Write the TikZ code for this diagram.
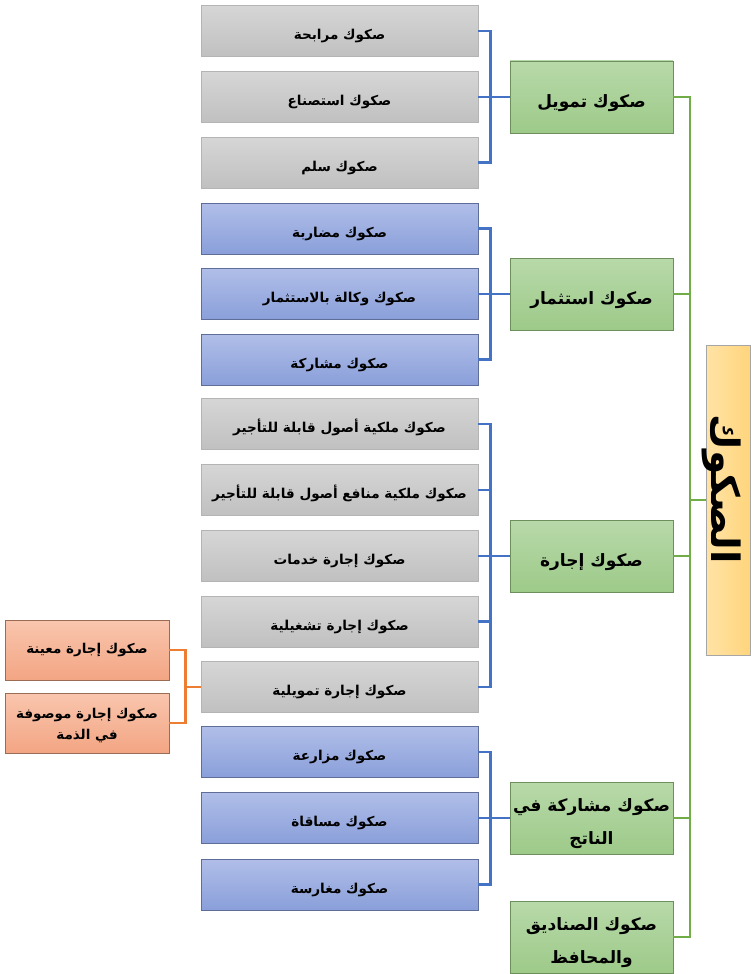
\documentclass[tikz,border=0pt]{standalone}
\usepackage{fontspec}
\newfontfamily\arabicfont[Script=Arabic]{DejaVu Sans}
\TeXXeTstate=1
\newcommand{\ar}[1]{\beginR #1\endR}
\definecolor{grayTop}{HTML}{D6D6D6}
\definecolor{grayBot}{HTML}{C0C0C0}
\definecolor{grayEdge}{HTML}{B4B4B4}
\definecolor{blueTop}{HTML}{B0BEE8}
\definecolor{blueBot}{HTML}{8A9FDA}
\definecolor{blueEdge}{HTML}{5F6E99}
\definecolor{greenTop}{HTML}{B8D9A9}
\definecolor{greenBot}{HTML}{9DCA89}
\definecolor{greenEdge}{HTML}{6D8F5C}
\definecolor{orangeTop}{HTML}{F9C6AE}
\definecolor{orangeBot}{HTML}{F3A583}
\definecolor{orangeEdge}{HTML}{9A6B55}
\definecolor{rootTop}{HTML}{FFE3A6}
\definecolor{rootBot}{HTML}{FFD57C}
\definecolor{rootEdge}{HTML}{A6A6A6}
\definecolor{blueLine}{HTML}{4472C4}
\definecolor{greenLine}{HTML}{70AD47}
\definecolor{orangeLine}{HTML}{ED7D31}
\begin{document}
\begin{tikzpicture}[x=1pt,y=-1pt,
  leafbox/.style={draw, line width=0.8pt, minimum width=277pt, minimum height=51pt,
    inner sep=2pt, align=center, text height=19pt, text depth=2pt,
    font=\arabicfont\bfseries\fontsize{13.6}{16}\selectfont},
  grayleaf/.style={leafbox, draw=grayEdge, top color=grayTop, bottom color=grayBot},
  blueleaf/.style={leafbox, draw=blueEdge, top color=blueTop, bottom color=blueBot},
  groupbox/.style={draw=greenEdge, line width=0.8pt, top color=greenTop, bottom color=greenBot,
    minimum width=163pt, minimum height=72pt, inner sep=2pt, align=center,
    font=\arabicfont\bfseries\fontsize{17}{33}\selectfont},
  onegroup/.style={groupbox, text height=24pt, text depth=3pt},
  twogroup/.style={groupbox, text height=55pt, text depth=2pt},
  subbox/.style={draw=orangeEdge, line width=0.8pt, top color=orangeTop, bottom color=orangeBot,
    minimum width=164pt, minimum height=60pt, inner sep=2pt, align=center,
    font=\arabicfont\bfseries\fontsize{13.5}{21}\selectfont},
  twosub/.style={subbox, text height=35pt, text depth=2pt},
  rootbox/.style={draw=rootEdge, line width=0.8pt, left color=rootTop, right color=rootBot,
    minimum width=44pt, minimum height=310pt, inner sep=0pt},
  blueconn/.style={draw=blueLine, line width=2.2pt},
  greenconn/.style={draw=greenLine, line width=2.2pt},
  orangeconn/.style={draw=orangeLine, line width=2.2pt}
]
\useasboundingbox (0,0) rectangle (750,974);

% second-level items
\node[grayleaf] (l1)  at (339.5,31)    {\ar{صكوك مرابحة}};
\node[grayleaf] (l2)  at (339.5,97)    {\ar{صكوك استصناع}};
\node[grayleaf] (l3)  at (339.5,162.5) {\ar{صكوك سلم}};
\node[blueleaf] (l4)  at (339.5,228.5) {\ar{صكوك مضاربة}};
\node[blueleaf] (l5)  at (339.5,294)   {\ar{صكوك وكالة بالاستثمار}};
\node[blueleaf] (l6)  at (339.5,359.5) {\ar{صكوك مشاركة}};
\node[grayleaf] (l7)  at (339.5,424)   {\ar{صكوك ملكية أصول قابلة للتأجير}};
\node[grayleaf] (l8)  at (339.5,490)   {\ar{صكوك ملكية منافع أصول قابلة للتأجير}};
\node[grayleaf] (l9)  at (339.5,556)   {\ar{صكوك إجارة خدمات}};
\node[grayleaf] (l10) at (339.5,621.5) {\ar{صكوك إجارة تشغيلية}};
\node[grayleaf] (l11) at (339.5,687)   {\ar{صكوك إجارة تمويلية}};
\node[blueleaf] (l12) at (339.5,752)   {\ar{صكوك مزارعة}};
\node[blueleaf] (l13) at (339.5,818)   {\ar{صكوك مساقاة}};
\node[blueleaf] (l14) at (339.5,884.5) {\ar{صكوك مغارسة}};

% leasing sub-types
\node[subbox] (s1) at (87,650) {\ar{صكوك إجارة معينة}};
\node[twosub] (s2) at (87,723) {\ar{صكوك إجارة موصوفة}\\\ar{في الذمة}};

% first-level groups
\node[onegroup] (g1) at (591.5,97)  {\ar{صكوك تمويل}};
\node[onegroup] (g2) at (591.5,294) {\ar{صكوك استثمار}};
\node[onegroup] (g3) at (591.5,556) {\ar{صكوك إجارة}};
\node[twogroup] (g4) at (591.5,818) {\ar{صكوك مشاركة في}\\\ar{الناتج}};
\node[twogroup] (g5) at (591.5,937) {\ar{صكوك الصناديق}\\\ar{والمحافظ}};

% root
\node[rootbox] (root) at (728,500) {};
\node[rotate=-90, font=\arabicfont\bfseries\fontsize{39}{40}\selectfont] (roottext) at (722,489) {\ar{الصكوك}};

% brackets from items to groups
\foreach \a/\g in {l1/g1,l2/g1,l3/g1,l4/g2,l5/g2,l6/g2,l7/g3,l8/g3,l9/g3,l10/g3,l11/g3,l12/g4,l13/g4,l14/g4}
  \draw[blueconn] (\a.east) -- ++(12,0) |- (\g.west);

% bracket from leasing sub-types
\foreach \s in {s1,s2}
  \draw[orangeconn] (\s.east) -- ++(16,0) |- (l11.west);

% trunk from groups to root
\coordinate (tt) at (690,97);
\coordinate (tb) at (690,937);
\draw[greenconn] (g1.east) -- (tt) -- (tb) -- (g5.east);
\foreach \g in {g2,g3,g4}
  \draw[greenconn] (\g.east) -- (\g.east -| tt);
\draw[greenconn] (tt |- root.west) -- (root.west);
\end{tikzpicture}
\end{document}
